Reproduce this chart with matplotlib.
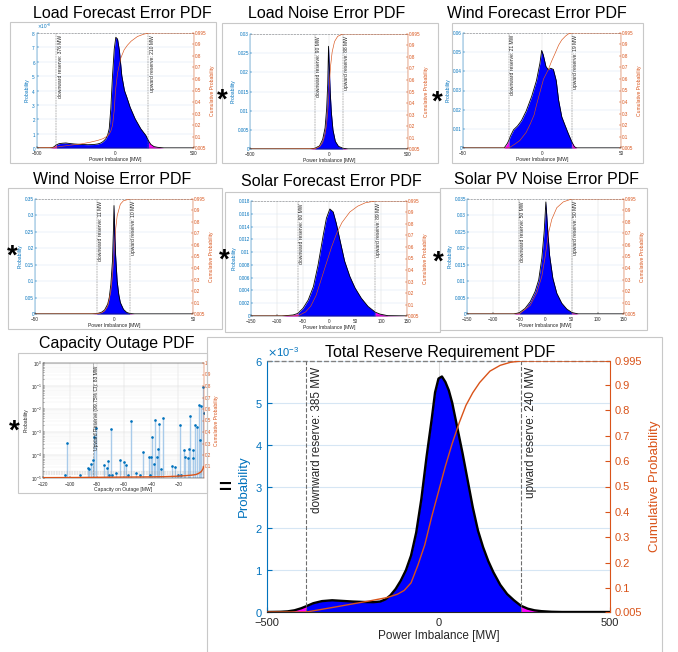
import numpy as np
import matplotlib
matplotlib.use("Agg")
import matplotlib.pyplot as plt
from matplotlib import ticker
from matplotlib.patches import Rectangle

# values (x in MW)
load_fc_x = [-500, -420, -400, -390, -376, -360, -340, -316, -290, -263, -220, -178, -140, -114, -95,
             -83, -72, -61, -50, -40, -30, -19, -8, 2, 13, 25, 40, 57, 72, 93, 125, 161, 193, 210,
             225, 245, 267, 309, 500]
load_fc_pdf = np.array([0, 0, 0.03, 0.1, 0.22, 0.3, 0.33, 0.35, 0.31, 0.28, 0.25, 0.23, 0.24, 0.28, 0.34,
                        0.42, 0.52, 0.65, 0.9, 1.34, 2.73, 5.04, 6.89, 7.7, 7.58, 6.77, 5.04, 4.0, 3.54,
                        2.84, 2.03, 1.34, 0.88, 0.5, 0.25, 0.1, 0.05, 0, 0]) * 1e-3
load_fc_cdf_x = [-500, -376, -300, -220, -160, -114, -80, -61, -40, -30, -19, -8, 0, 13, 34, 55, 76,
                 100, 140, 180, 214, 500]
load_fc_cdf = [0.005, 0.013, 0.027, 0.04, 0.055, 0.07, 0.085, 0.1, 0.125, 0.15, 0.2, 0.33, 0.5, 0.65,
               0.78, 0.85, 0.89, 0.925, 0.965, 0.985, 0.995, 0.995]

load_ns_x = [-500, -120, -90, -60, -40, -25, -15, -8, -3, 2, 8, 15, 25, 40, 60, 88, 120, 500]
load_ns_pdf = [0, 0, 0.0002, 0.0008, 0.0025, 0.0055, 0.0105, 0.017, 0.0268, 0.021, 0.0145, 0.0095,
               0.005, 0.002, 0.0007, 0.0002, 0, 0]
load_ns_cdf_x = [-500, -90, -60, -40, -25, -15, -5, 0, 5, 10, 20, 35, 55, 88, 500]
load_ns_cdf = [0.005, 0.007, 0.025, 0.06, 0.13, 0.22, 0.38, 0.5, 0.62, 0.72, 0.84, 0.93, 0.975, 0.995, 0.995]

wind_fc_x = [-50, -24, -22, -21, -20, -18, -15.5, -13, -10, -6.5, -3.5, -1.3, -0.2, 0.8, 2.5, 4, 5.5,
             7.2, 9, 10.5, 12.5, 14.5, 16.5, 19, 20.5, 22, 50]
wind_fc_pdf = [0, 0, 0.0023, 0.004, 0.0062, 0.0095, 0.0115, 0.0143, 0.0193, 0.027, 0.0352, 0.0443,
               0.0509, 0.0486, 0.0425, 0.0408, 0.0416, 0.041, 0.0352, 0.025, 0.0163, 0.012, 0.0078,
               0.003, 0.0007, 0, 0]
wind_fc_cdf_x = [-50, -21, -17, -14, -10, -7.5, -5, -3.4, -1, 1, 4, 6, 8.3, 10.5, 12.5, 15, 17, 19, 50]
wind_fc_cdf = [0.005, 0.005, 0.04, 0.07, 0.14, 0.21, 0.29, 0.38, 0.5, 0.6, 0.68, 0.75, 0.82, 0.89,
               0.935, 0.97, 0.99, 0.995, 0.995]

wind_ns_x = [-50, -14, -11, -8, -6, -4, -3, -2, -1, -0.4, 0, 0.5, 1, 2, 3, 4, 6, 8, 10, 13, 50]
wind_ns_pdf = [0, 0, 0.001, 0.005, 0.012, 0.03, 0.05, 0.09, 0.16, 0.25, 0.33, 0.25, 0.18, 0.1, 0.06,
               0.035, 0.014, 0.005, 0.0015, 0, 0]
wind_ns_cdf_x = [-50, -11, -8, -6, -4, -2, -1, 0, 1, 2, 4, 6, 10, 50]
wind_ns_cdf = [0.005, 0.006, 0.015, 0.03, 0.07, 0.2, 0.33, 0.52, 0.73, 0.85, 0.95, 0.98, 0.995, 0.995]

solar_fc_x = [-150, -91, -69, -60, -50, -40, -30, -21, -11, -5, 1.6, 8, 14, 21, 30, 40, 50, 62, 75,
              89, 98, 113, 150]
solar_fc_pdf = [0, 0, 0.00016, 0.0004, 0.0012, 0.0025, 0.0046, 0.008, 0.0127, 0.0153, 0.01675, 0.0163,
                0.0145, 0.0119, 0.0086, 0.0062, 0.0044, 0.0028, 0.0015, 0.0006, 0.0003, 0.00005, 0]
solar_fc_cdf_x = [-150, -60, -45, -35, -25, -15, -5, 5, 15, 25, 40, 55, 70, 89, 150]
solar_fc_cdf = [0.005, 0.005, 0.04, 0.09, 0.18, 0.32, 0.46, 0.6, 0.72, 0.81, 0.9, 0.95, 0.98, 0.995, 0.995]

solar_ns_x = [-150, -61, -50, -39, -29, -20, -13, -7, -2.5, 0.7, 4, 7.7, 14, 21.6, 31, 40.7, 50, 52,
              63, 150]
solar_ns_pdf = [0, 0, 0.0004, 0.0017, 0.0038, 0.0068, 0.0104, 0.017, 0.0251, 0.0341, 0.0261, 0.018,
                0.0109, 0.0063, 0.0033, 0.0015, 0.0005, 0.0004, 0, 0]
solar_ns_cdf_x = [-150, -50, -29, -16.5, -7, -0.6, 5.7, 12, 21.6, 34, 50, 150]
solar_ns_cdf = [0.005, 0.005, 0.08, 0.19, 0.33, 0.5, 0.7, 0.82, 0.92, 0.97, 0.995, 0.995]

total_x = [-500, -460, -440, -420, -400, -385, -365, -340, -310, -280, -250, -220, -190, -170, -155,
           -140, -125, -110, -95, -80, -65, -50, -35, -20, -10, 0, 10, 20, 30, 40, 55, 70, 85, 100,
           115, 130, 145, 160, 180, 200, 220, 240, 260, 280, 300, 330, 360, 400, 500]
total_pdf = np.array([0, 0.005, 0.015, 0.04, 0.09, 0.14, 0.21, 0.26, 0.28, 0.265, 0.25, 0.24, 0.235,
                      0.25, 0.3, 0.4, 0.55, 0.75, 1.0, 1.35, 1.9, 2.7, 3.7, 4.6, 5.25, 5.58, 5.63, 5.5,
                      5.3, 5.0, 4.4, 3.8, 3.15, 2.5, 1.95, 1.55, 1.22, 0.95, 0.65, 0.43, 0.28, 0.15,
                      0.08, 0.04, 0.02, 0.005, 0, 0, 0]) * 1e-3
total_cdf_x = [-500, -385, -300, -200, -150, -120, -100, -80, -60, -40, -20, 0, 20, 40, 60, 80, 100,
               120, 150, 180, 210, 240, 500]
total_cdf = [0.005, 0.005, 0.025, 0.049, 0.062, 0.075, 0.09, 0.12, 0.19, 0.27, 0.38, 0.48, 0.58, 0.67,
             0.75, 0.82, 0.87, 0.91, 0.955, 0.978, 0.99, 0.995, 0.995]

cap_mw = [-103.5, -102, -93, -87, -86, -84.5, -83, -82, -81, -75, -73, -72, -71, -70, -69, -66, -63,
          -60, -59, -57, -55, -51, -48, -46, -42, -41, -40, -39.5, -38, -37, -36, -35, -34, -33,
          -31.5, -25, -22.5, -20.5, -19, -18, -16, -15, -13, -12, -11, -9.5, -9, -8, -6.5, -5, -4,
          -3, -2, -1]
cap_prob = [1.3e-5, 3.4e-4, 1.4e-5, 2.8e-5, 2.5e-5, 4.2e-5, 6.3e-5, 6.3e-4, 1.5e-3, 3.6e-5, 2.8e-5,
            5.5e-5, 1.4e-5, 1.4e-3, 1.4e-5, 1.7e-5, 6.3e-5, 5e-5, 3.8e-5, 1.4e-5, 3.1e-3, 1.7e-5,
            1.4e-5, 1.4e-4, 8.3e-5, 1.3e-5, 8.3e-5, 6.3e-4, 4.2e-5, 3.3e-3, 8.3e-5, 1.9e-4, 2.2e-3,
            2.5e-5, 3.9e-3, 3.2e-5, 3e-5, 1.4e-5, 2e-3, 1.3e-5, 1.7e-4, 8.3e-5, 7.7e-5, 1.9e-4, 5e-3,
            7.5e-5, 1.6e-4, 2e-3, 1.7e-3, 1.5e-2, 4.5e-4, 1.3e-2, 8.9e-2, 6.5e-3]
cap_cdf_x = [-120, -100, -80, -60, -40, -30, -20, -15, -10, -7, -5, -3, -2, -1]
cap_cdf = [0.003, 0.004, 0.006, 0.008, 0.01, 0.012, 0.016, 0.02, 0.025, 0.03, 0.04, 0.055, 0.075, 0.1]
cap_reserve = -83
cap_dash_levels = [1.45e-5, 1.8e-5]

plt.rcParams["font.family"] = ["Liberation Sans", "DejaVu Sans"]
plt.rcParams["mathtext.fontset"] = "dejavusans"

W, H = 678, 652
BLUE = "#0072BD"
ORANGE = "#D95319"
DARK = "#262626"


def box(left, top, right, bottom):
    return [left / W, 1 - bottom / H, (right - left) / W, (bottom - top) / H]


def fmt_g(v, pos):
    return f"{v:g}".replace("-", "\u2212")


def frame(fig, left, top, right, bottom):
    fig.add_artist(Rectangle((left / W, 1 - bottom / H), (right - left) / W, (bottom - top) / H,
                             transform=fig.transFigure, fill=False, ec="#c8c8c8", lw=0.8))


def pdf_panel(fig, rect, x, pdf, cx, cdf, reserve, xticks, yticks, big=False, sci=False):
    fs = 8 if big else 3.3
    lfs = 8.5 if big else 3.6
    thin = 0.8 if big else 0.35
    x = np.asarray(x, float)
    pdf = np.asarray(pdf, float)
    lo, hi = reserve

    ax = fig.add_axes(box(*rect))
    ax.fill_between(x, 0, pdf, where=(x >= lo) & (x <= hi), color="#0000FF", lw=0, zorder=2)
    ax.fill_between(x, 0, pdf, where=x <= lo, color="#FF00FF", lw=0, zorder=2)
    ax.fill_between(x, 0, pdf, where=x >= hi, color="#FF00FF", lw=0, zorder=2)
    ax.plot(x, pdf, color="black", lw=1.7 if big else 0.6, zorder=3)
    ytop = yticks[-1]
    ax.axhline(ytop, color="#808080", ls="--", lw=thin * 1.2, zorder=3, clip_on=False)
    for r in reserve:
        ax.axvline(r, color="#6e6e6e", ls="--", lw=thin, zorder=3)
    off = (3, -4) if big else (0.8, -1.5)
    ax.annotate(f"downward reserve: {abs(lo)} MW", xy=(lo, ytop), xytext=off, textcoords="offset points",
                rotation=90, ha="left", va="top", fontsize=lfs, color=DARK)
    ax.annotate(f"upward reserve: {abs(hi)} MW", xy=(hi, ytop), xytext=off, textcoords="offset points",
                rotation=90, ha="left", va="top", fontsize=lfs, color=DARK)

    ax.set_xlim(xticks[0], xticks[-1])
    ax.set_ylim(0, ytop)
    ax.set_xticks(xticks)
    ax.set_yticks(yticks)
    ax.xaxis.set_major_formatter(ticker.FuncFormatter(fmt_g))
    if sci:
        sf = ticker.ScalarFormatter(useMathText=True)
        sf.set_powerlimits((-2, 2))
        ax.yaxis.set_major_formatter(sf)
        ax.yaxis.get_offset_text().set_color(BLUE)
        ax.yaxis.get_offset_text().set_fontsize(fs)
    else:
        ax.yaxis.set_major_formatter(ticker.FuncFormatter(fmt_g))
    ax.grid(axis="x", color="#dcdcdc", lw=thin)
    ax.grid(axis="y", color="#d6e6f4", lw=thin)
    ax.set_axisbelow(True)
    tl = 3.5 if big else 1.2
    pad = 3 if big else 0.8
    ax.tick_params(direction="in", labelsize=fs, length=tl, width=thin, pad=pad)
    ax.tick_params(axis="x", colors=DARK, pad=4.5 if big else 2.3)
    ax.tick_params(axis="y", colors=BLUE)
    ax.spines["left"].set_color(BLUE)
    ax.spines["bottom"].set_color(DARK)
    ax.spines["top"].set_visible(False)
    ax.spines["right"].set_visible(False)
    for s in ax.spines.values():
        s.set_linewidth(thin)
    ax.set_xlabel("Power Imbalance [MW]", fontsize=lfs, color=DARK, labelpad=1.5 if big else 0.6)
    ax.set_ylabel("Probability", fontsize=lfs * (1.12 if big else 1), color=BLUE, labelpad=4 if big else 1.5)

    ax2 = ax.twinx()
    ax2.plot(cx, cdf, color=ORANGE, lw=1.0 if big else 0.45)
    ax2.set_ylim(0.005, 0.995)
    ax2.set_yticks([0.005, 0.1, 0.2, 0.3, 0.4, 0.5, 0.6, 0.7, 0.8, 0.9, 0.995])
    ax2.yaxis.set_major_formatter(ticker.FuncFormatter(fmt_g))
    ax2.tick_params(direction="in", labelsize=fs, length=tl, width=thin, pad=pad, colors=ORANGE)
    for name in ["left", "top", "bottom"]:
        ax2.spines[name].set_visible(False)
    ax2.spines["right"].set_color(ORANGE)
    ax2.spines["right"].set_linewidth(thin)
    ax2.set_ylabel("Cumulative Probability", fontsize=lfs * (1.12 if big else 1), color=ORANGE,
                   labelpad=5 if big else 2)
    return ax


fig = plt.figure(figsize=(W / 100, H / 100), dpi=100)

# panel frames
frame(fig, 10, 22, 216, 163)
frame(fig, 222, 23, 438, 163)
frame(fig, 452, 23, 643, 163)
frame(fig, 8, 188, 222, 329)
frame(fig, 225, 192, 440, 332)
frame(fig, 440, 188, 647, 330)
frame(fig, 207, 337, 662, 700)
frame(fig, 18, 353, 207, 493)

dec = [0.005 * i for i in range(7)]
pdf_panel(fig, (37, 33, 194, 148), load_fc_x, load_fc_pdf, load_fc_cdf_x, load_fc_cdf, (-376, 210),
          [-500, 0, 500], [i * 1e-3 for i in range(9)], sci=True)
pdf_panel(fig, (250, 34, 408, 149), load_ns_x, load_ns_pdf, load_ns_cdf_x, load_ns_cdf, (-90, 88),
          [-500, 0, 500], dec)
pdf_panel(fig, (463, 33, 621, 148), wind_fc_x, wind_fc_pdf, wind_fc_cdf_x, wind_fc_cdf, (-21, 19),
          [-50, 0, 50], [0.01 * i for i in range(7)])
pdf_panel(fig, (35, 199, 193, 314), wind_ns_x, wind_ns_pdf, wind_ns_cdf_x, wind_ns_cdf, (-11, 10),
          [-50, 0, 50], [0.05 * i for i in range(8)])
pdf_panel(fig, (251, 201, 407, 316), solar_fc_x, solar_fc_pdf, solar_fc_cdf_x, solar_fc_cdf, (-60, 89),
          [-150, -100, -50, 0, 50, 100, 150], [0.002 * i for i in range(10)])
pdf_panel(fig, (467, 199, 624, 314), solar_ns_x, solar_ns_pdf, solar_ns_cdf_x, solar_ns_cdf, (-50, 50),
          [-150, -100, -50, 0, 50, 100, 150], [0.005 * i for i in range(8)])
pdf_panel(fig, (267, 361, 610, 612), total_x, total_pdf, total_cdf_x, total_cdf, (-385, 240),
          [-500, 0, 500], [i * 1e-3 for i in range(7)], big=True, sci=True)

# capacity outage panel
ax = fig.add_axes(box(43, 363, 204, 478))
ax.set_yscale("log")
ax.set_ylim(1e-5, 1)
ax.set_xlim(-120, -1)
ax.vlines(cap_mw, 1e-5, cap_prob, color="#a9cbea", lw=1.0, zorder=2)
ax.plot(cap_mw, cap_prob, ".", color=BLUE, ms=1.8, zorder=3)
for lev in cap_dash_levels:
    ax.axhline(lev, color="#9a9a9a", ls="--", lw=0.35, zorder=2)
ax.axvline(cap_reserve, color="#8a8a8a", ls="--", lw=0.45, zorder=2)
ax.annotate(f"Upward Reserve (99.75% CI): {abs(cap_reserve)} MW", xy=(cap_reserve, 1), xytext=(0.8, -1.5),
            textcoords="offset points", rotation=90, ha="left", va="top", fontsize=3.6, color=DARK)
ax.set_xticks([-120, -100, -80, -60, -40, -20])
ax.xaxis.set_major_formatter(ticker.FuncFormatter(fmt_g))
ax.grid(which="major", color="#d9d9d9", lw=0.35)
ax.grid(which="minor", color="#ededed", lw=0.3)
ax.set_axisbelow(True)
ax.tick_params(which="both", direction="in", labelsize=3.3, length=1.2, width=0.35, pad=0.8, colors=DARK)
ax.tick_params(axis="x", pad=2.6)
ax.tick_params(which="minor", length=0.7)
for s in ax.spines.values():
    s.set_linewidth(0.35)
    s.set_color(DARK)
ax.spines["right"].set_visible(False)
ax.set_xlabel("Capacity on Outage [MW]", fontsize=3.6, color=DARK, labelpad=0.6)
ax.set_ylabel("Probability", fontsize=3.6, color=DARK, labelpad=1.5)
ax2 = ax.twinx()
ax2.plot(cap_cdf_x, cap_cdf, color=ORANGE, lw=1.0)
ax2.set_ylim(0, 1)
ax2.set_yticks([0.1, 0.2, 0.3, 0.4, 0.5, 0.6, 0.7, 0.8, 0.9, 1])
ax2.yaxis.set_major_formatter(ticker.FuncFormatter(fmt_g))
ax2.tick_params(direction="in", labelsize=3.3, length=1.2, width=0.35, pad=0.8, colors=ORANGE)
for name in ["left", "top", "bottom"]:
    ax2.spines[name].set_visible(False)
ax2.spines["right"].set_color(ORANGE)
ax2.spines["right"].set_linewidth(0.35)
ax2.set_ylabel("Cumulative Probability", fontsize=3.6, color=ORANGE, labelpad=2)

# titles
titles = [("Load Forecast Error PDF", 122, 13), ("Load Noise Error PDF", 327, 14),
          ("Wind Forecast Error PDF", 537, 13), ("Wind Noise Error PDF", 112, 179),
          ("Solar Forecast Error PDF", 331, 182), ("Solar PV Noise Error PDF", 546, 179),
          ("Capacity Outage PDF", 117, 344), ("Total Reserve Requirement PDF", 440, 353)]
for text, cx, cy in titles:
    fig.text(cx / W, 1 - cy / H, text, ha="center", va="center", fontsize=11.5, color="black")

# operators between panels
for cx, cy in [(222, 96), (437, 98), (12, 252), (224, 256), (438, 258), (14, 427)]:
    fig.text(cx / W, 1 - (cy + 5) / H, "*", ha="center", va="center", fontsize=20, fontweight="bold")
fig.text(225 / W, 1 - 488 / H, "=", ha="center", va="center", fontsize=16, fontweight="bold")

fig.savefig("out.png", dpi=100)
